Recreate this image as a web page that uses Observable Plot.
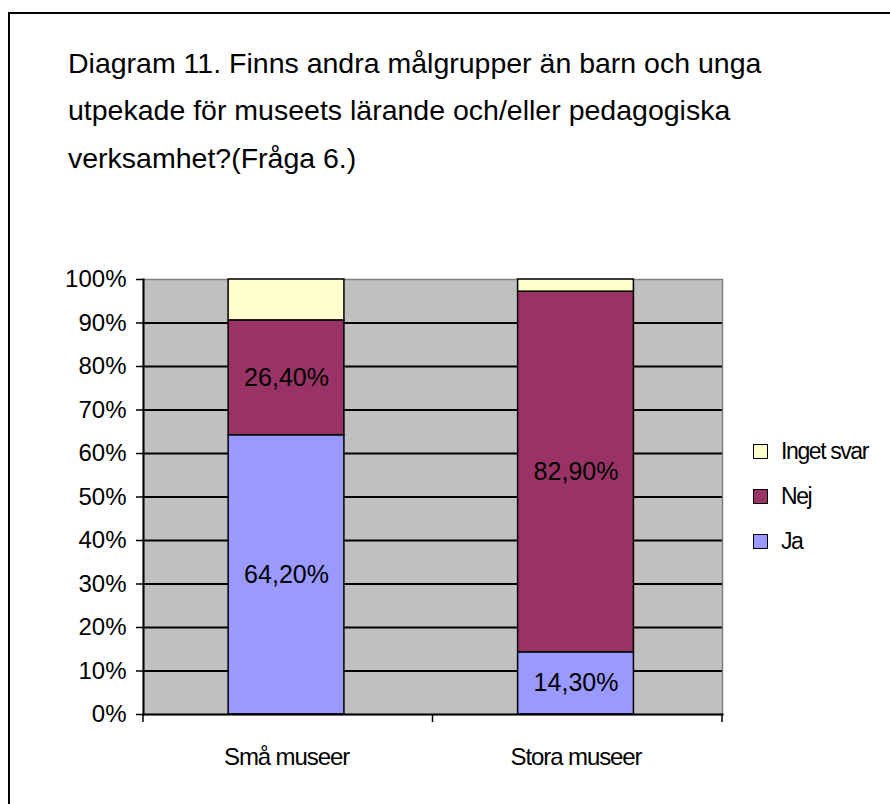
<!DOCTYPE html>
<html>
<head>
<meta charset="utf-8">
<script src="https://cdn.jsdelivr.net/npm/d3@7"></script>
<script src="https://cdn.jsdelivr.net/npm/@observablehq/plot@0.6"></script>
<style>
  body { margin: 0; background: #fff; font-family: "Liberation Sans", Arial, sans-serif; }
  #wrap { position: relative; width: 890px; height: 804px; overflow: hidden; background: #fff; }
  #frame { position: absolute; left: 8px; top: 12px; width: 900px; height: 900px; border-top: 2px solid #000; border-left: 2px solid #000; box-sizing: border-box; }
  #title { position: absolute; left: 68px; top: 39.5px; font-size: 28.5px; line-height: 47.5px; color: #000; white-space: nowrap; }
  #chart { position: absolute; left: 0; top: 0; }
  #legend { position: absolute; left: 753px; top: 0; }
  .item { position: absolute; left: 0; height: 26px; display: flex; align-items: center; white-space: nowrap; font-size: 23px; letter-spacing: -1.4px; }
  .sw { width: 13px; height: 13px; border: 1.5px solid #000; margin-right: 13px; flex: none; }
</style>
</head>
<body>
<div id="wrap">
  <div id="frame"></div>
  <div id="title"></div>
  <div id="chart"></div>
  <div id="legend"></div>
</div>
<script>
const titleLines = [
  "Diagram 11. Finns andra målgrupper än barn och unga",
  "utpekade för museets lärande och/eller pedagogiska",
  "verksamhet?(Fråga 6.)"
];
const categories = ["Små museer", "Stora museer"];
const series = ["Ja", "Nej", "Inget svar"];
const ja = [64.2, 14.3];
const nej = [26.4, 82.9];
const ingetSvar = [9.4, 2.8];
const colors = ["#9999FF", "#993366", "#FFFFCC"];
const yTicks = [0, 10, 20, 30, 40, 50, 60, 70, 80, 90, 100];
const legendOrder = ["Inget svar", "Nej", "Ja"];
const labelledSeries = ["Ja", "Nej"];

document.getElementById("title").innerHTML = titleLines.map(t => `<div>${t}</div>`).join("");

const seriesValues = [ja, nej, ingetSvar];
const rows = [];
categories.forEach((c, i) => {
  series.forEach((s, j) => rows.push({category: c, series: s, value: seriesValues[j][i]}));
});
const fmt = v => v.toFixed(2).replace(".", ",") + "%";

const font = '"Liberation Sans", Arial, sans-serif';
const plot = Plot.plot({
  width: 890,
  height: 804,
  marginTop: 279,
  marginBottom: 90,
  marginLeft: 143,
  marginRight: 168,
  style: { fontFamily: font, background: "transparent", color: "#000", overflow: "visible" },
  x: { domain: categories, paddingInner: 0.6, paddingOuter: 0.3, align: 0.49, round: false, label: null, axis: null },
  y: { domain: [0, 100], label: null, axis: null },
  color: { domain: series, range: colors },
  marks: [
    Plot.frame({ fill: "#C0C0C0", stroke: "#808080", strokeWidth: 1.5 }),
    Plot.gridY(yTicks.filter(t => t > 0 && t < 100), { stroke: "#000", strokeOpacity: 1, strokeWidth: 2 }),
    Plot.barY(rows, Plot.stackY({ x: "category", y: "value", fill: "series", stroke: "#000", strokeWidth: 1.5 })),
    Plot.text(rows.filter(d => labelledSeries.includes(d.series)), Plot.stackY({
      x: "category", y: "value", text: d => fmt(d.value), fill: "#000", fontSize: 25
    })),
    Plot.axisY(yTicks, { tickSize: 7, tickPadding: 10, tickFormat: d => d + "%", fontSize: 24, stroke: "#000", strokeWidth: 1.5 }),
    Plot.axisX({ tickSize: 0, tickPadding: 33, fontSize: 24 }),
    Plot.frame({ anchor: "left", stroke: "#000", strokeWidth: 2 }),
    Plot.frame({ anchor: "bottom", stroke: "#000", strokeWidth: 2 })
  ]
});
document.getElementById("chart").appendChild(plot);

// tighten category label spacing
d3.select(plot).selectAll("g[aria-label='x-axis tick label'] text").style("letter-spacing", "-1.1px");

// category boundary tick marks on the x axis
const xs = plot.scale("x");
const ys = plot.scale("y");
const [r0, r1] = xs.range;
const bounds = d3.range(categories.length + 1).map(i => r0 + i * (r1 - r0) / categories.length);
const y0 = ys.apply(0);
d3.select(plot).append("g").selectAll("line").data(bounds).join("line")
  .attr("x1", d => d).attr("x2", d => d)
  .attr("y1", y0).attr("y2", y0 + 8)
  .attr("stroke", "#000").attr("stroke-width", 1.5);

// legend
const legend = document.getElementById("legend");
const legendY = [451, 496, 541];
legendOrder.forEach((s, i) => {
  const item = document.createElement("div");
  item.className = "item";
  item.style.top = (legendY[i] - 13) + "px";
  item.innerHTML = `<span class="sw" style="background:${colors[series.indexOf(s)]}"></span><span>${s}</span>`;
  legend.appendChild(item);
});
</script>
</body>
</html>
